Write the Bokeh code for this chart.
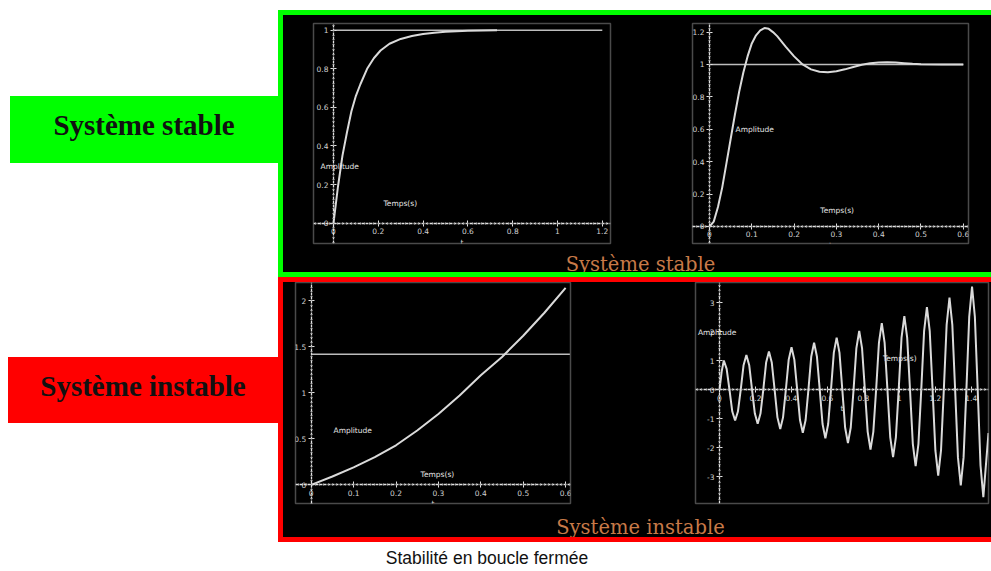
import numpy as np
from bokeh.plotting import figure
from bokeh.models import Range1d, FixedTicker, Label, Div, Spacer, CustomJSTickFormatter
from bokeh.layouts import row, column
from bokeh.embed import file_html
from bokeh.resources import INLINE

# ---------------- data ----------------
# top-left: first-order step response (stable)
t1 = [0.0, 0.02, 0.04, 0.06, 0.08, 0.10, 0.12, 0.15, 0.18, 0.21, 0.25, 0.30, 0.35, 0.40, 0.45, 0.50, 0.60, 0.73]
y1 = [0.0, 0.19, 0.35, 0.47, 0.58, 0.66, 0.72, 0.80, 0.855, 0.895, 0.93, 0.955, 0.97, 0.98, 0.987, 0.992, 0.997, 1.0]
ref1_t = [0.0, 1.2]
ref1_y = [1.0, 1.0]
xticks1 = [0, 0.2, 0.4, 0.6, 0.8, 1, 1.2]
yticks1 = [0, 0.2, 0.4, 0.6, 0.8, 1]

# top-right: second-order step response with overshoot (stable)
t2 = [0.0, 0.01, 0.02, 0.03, 0.04, 0.05, 0.06, 0.07, 0.08, 0.09, 0.10, 0.11, 0.12, 0.13, 0.14, 0.15,
      0.16, 0.18, 0.20, 0.22, 0.24, 0.26, 0.28, 0.30, 0.32, 0.34, 0.36, 0.38, 0.40, 0.42, 0.44, 0.46,
      0.48, 0.50, 0.55, 0.60]
y2 = [0.0, 0.03, 0.12, 0.24, 0.39, 0.54, 0.69, 0.83, 0.95, 1.05, 1.13, 1.18, 1.21, 1.225, 1.22, 1.20,
      1.175, 1.11, 1.05, 1.00, 0.97, 0.955, 0.952, 0.958, 0.970, 0.985, 0.998, 1.007, 1.012, 1.014, 1.012, 1.008,
      1.004, 1.001, 1.0, 1.0]
ref2_t = [0.0, 0.6]
ref2_y = [1.0, 1.0]
xticks2 = [0, 0.1, 0.2, 0.3, 0.4, 0.5, 0.6]
yticks2 = [0, 0.2, 0.4, 0.6, 0.8, 1, 1.2]

# bottom-left: diverging response (unstable)
t3 = [0.0, 0.05, 0.1, 0.15, 0.2, 0.25, 0.3, 0.35, 0.4, 0.45, 0.5, 0.55, 0.6]
y3 = [0.0, 0.09, 0.19, 0.30, 0.43, 0.59, 0.77, 0.97, 1.19, 1.39, 1.62, 1.87, 2.14]
ref3_t = [0.0, 0.61]
ref3_y = [1.42, 1.42]
xticks3 = [0, 0.1, 0.2, 0.3, 0.4, 0.5, 0.6]
yticks3 = [0, 0.5, 1, 1.5, 2]

# bottom-right: growing oscillation (unstable)
t4 = [0.0, 0.012, 0.024,
      0.0397, 0.0554, 0.0711, 0.0868, 0.1024, 0.1181, 0.1338, 0.1495,
      0.1652, 0.1809, 0.1966, 0.2123, 0.2279, 0.2436, 0.2593, 0.2750,
      0.2907, 0.3064, 0.3221, 0.3378, 0.3534, 0.3691, 0.3848, 0.4005,
      0.4162, 0.4319, 0.4476, 0.4633, 0.4789, 0.4946, 0.5103, 0.5260,
      0.5417, 0.5574, 0.5731, 0.5888, 0.6044, 0.6201, 0.6358, 0.6515,
      0.6672, 0.6829, 0.6986, 0.7143, 0.7299, 0.7456, 0.7613, 0.7770,
      0.7927, 0.8084, 0.8241, 0.8398, 0.8554, 0.8711, 0.8868, 0.9025,
      0.9182, 0.9339, 0.9496, 0.9653, 0.9809, 0.9966, 1.0123, 1.0280,
      1.0437, 1.0594, 1.0751, 1.0908, 1.1064, 1.1221, 1.1378, 1.1535,
      1.1692, 1.1849, 1.2006, 1.2163, 1.2319, 1.2476, 1.2633, 1.2790,
      1.2947, 1.3104, 1.3261, 1.3418, 1.3574, 1.3731, 1.3888, 1.4045,
      1.4202, 1.4359, 1.4516, 1.4673,
      1.4960]
y4 = [0.0, 0.62, 1.00,
      0.71, 0.0, -0.76, -1.07, -0.76, 0.0, 0.84, 1.19,
      0.84, 0.0, -0.83, -1.18, -0.83, 0.0, 0.93, 1.31,
      0.93, 0.0, -0.96, -1.36, -0.96, 0.0, 1.03, 1.46,
      1.03, 0.0, -1.05, -1.49, -1.05, 0.0, 1.14, 1.61,
      1.14, 0.0, -1.19, -1.68, -1.19, 0.0, 1.27, 1.79,
      1.27, 0.0, -1.31, -1.85, -1.31, 0.0, 1.43, 2.02,
      1.43, 0.0, -1.46, -2.07, -1.46, 0.0, 1.62, 2.29,
      1.62, 0.0, -1.65, -2.33, -1.65, 0.0, 1.79, 2.53,
      1.79, 0.0, -1.87, -2.64, -1.87, 0.0, 2.01, 2.84,
      2.01, 0.0, -2.10, -2.97, -2.10, 0.0, 2.24, 3.17,
      2.24, 0.0, -2.34, -3.31, -2.34, 0.0, 2.51, 3.55,
      2.51, 0.0, -2.62, -3.71,
      -1.50]
xticks4 = [0, 0.2, 0.4, 0.6, 0.8, 1, 1.2, 1.4]
yticks4 = [-3, -2, -1, 0, 1, 2, 3]

label_stable = "Système stable"
label_unstable = "Système instable"
caption_text = "Stabilité en boucle fermée"
amp_label = "Amplitude"
time_label = "Temps(s)"
x_axis_name = "t"

# ---------------- styling ----------------
GREEN = "#00ff00"
RED = "#ff0000"
BLACK = "#000000"
CURVE = "#dadada"
AXIS = "#e2e2e2"
TXT = "#c87a48"


def minor(lo, hi, step):
    start = np.ceil(lo / step) * step
    return [round(float(v), 6) for v in np.arange(start, hi + step * 0.01, step)]


def mini(w, h, borders, xr, yr, xticks, yticks, xstep, ystep):
    l, r, t, b = borders
    p = figure(width=w, height=h, x_range=Range1d(*xr), y_range=Range1d(*yr),
               output_backend="svg", toolbar_location=None,
               min_border_left=l, min_border_right=r, min_border_top=t, min_border_bottom=b,
               styles={"background-color": BLACK})
    p.background_fill_color = "black"
    p.border_fill_color = "black"
    p.outline_line_color = "#4a4a4a"
    p.outline_line_width = 1.5
    p.xgrid.visible = False
    p.ygrid.visible = False
    fmt = CustomJSTickFormatter(code="return String(Math.round(tick*1000)/1000);")
    for ax, ticks, rng, step in ((p.xaxis[0], xticks, xr, xstep), (p.yaxis[0], yticks, yr, ystep)):
        ax.fixed_location = 0
        ax.ticker = FixedTicker(ticks=ticks, minor_ticks=minor(rng[0], rng[1], step))
        ax.formatter = fmt
        ax.axis_line_color = AXIS
        ax.axis_line_width = 1.3
        ax.axis_line_dash = "3 1"
        ax.major_tick_line_color = AXIS
        ax.major_tick_in = 3
        ax.major_tick_out = 3
        ax.minor_tick_line_color = "#b0b0b0"
        ax.minor_tick_in = 1
        ax.minor_tick_out = 1
        ax.major_label_text_color = "#d2d2d2"
        ax.major_label_text_font = "DejaVu Sans"
        ax.major_label_text_font_size = "7.5px"
        ax.major_label_standoff = 2
    p.xaxis.axis_label = x_axis_name
    p.xaxis.axis_label_text_color = "#d2d2d2"
    p.xaxis.axis_label_text_font = "DejaVu Sans"
    p.xaxis.axis_label_text_font_size = "7.5px"
    p.xaxis.axis_label_text_font_style = "normal"
    p.xaxis.axis_label_standoff = 0
    return p


def note(p, x, y, text):
    p.add_layout(Label(x=x, y=y, text=text, text_color="#e6e6e6", text_font="DejaVu Sans",
                       text_font_size="7.5px", text_baseline="middle"))


fig1 = mini(367, 235, (30, 40, 4, 4), (-0.0893, 1.2366), (-0.1055, 1.035), xticks1, yticks1, 0.02, 0.025)
fig1.line(ref1_t, ref1_y, line_color="#bdbdbd", line_width=1.5)
fig1.line(t1, y1, line_color=CURVE, line_width=2)
note(fig1, -0.058, 0.296, amp_label)
note(fig1, 0.223, 0.10, time_label)

fig2 = mini(341, 235, (42, 23, 8, 7), (-0.0402, 0.6123), (-0.105, 1.253), xticks2, yticks2, 0.01, 0.025)
fig2.line(ref2_t, ref2_y, line_color="#bdbdbd", line_width=1.5)
fig2.line(t2, y2, line_color=CURVE, line_width=2)
note(fig2, 0.0615, 0.599, amp_label)
note(fig2, 0.262, 0.099, time_label)

fig3 = mini(367, 228, (12, 80, 0, 7), (-0.037, 0.6115), (-0.203, 2.199), xticks3, yticks3, 0.01, 0.05)
fig3.line(ref3_t, ref3_y, line_color="#bdbdbd", line_width=1.5)
fig3.line(t3, y3, line_color=CURVE, line_width=2)
note(fig3, 0.0526, 0.59, amp_label)
note(fig3, 0.258, 0.112, time_label)

fig4 = mini(341, 228, (45, 3, 0, 7), (-0.1335, 1.496), (-3.93, 3.69), xticks4, yticks4, 0.025, 0.2)
fig4.line(t4, y4, line_color=CURVE, line_width=2)
note(fig4, -0.12, 1.97, amp_label)
note(fig4, 0.909, 1.07, time_label)


def side_label(txt, w, h, color, pad_bottom):
    html = (f'<div style="width:{w}px;height:{h}px;background:{color};display:flex;'
            f'align-items:center;justify-content:center;box-sizing:border-box;padding-bottom:{pad_bottom}px;'
            f"font-family:'Liberation Serif';font-weight:bold;font-size:29px;color:#111111;"
            f'white-space:nowrap;">{txt}</div>')
    return Div(text=html, width=w, height=h, margin=0, styles={"background-color": color})


def panel_text(txt, h, pad_top, line_h):
    html = (f'<div style="width:708px;height:{h}px;background:#000000;box-sizing:border-box;'
            f'padding-left:7px;padding-top:{pad_top}px;text-align:center;'
            f"font-family:'DejaVu Serif';font-size:19.5px;line-height:{line_h}px;color:{TXT};"
            f'white-space:nowrap;">{txt}</div>')
    return Div(text=html, width=708, height=h, margin=0, styles={"background-color": BLACK})


def band(w, h, color):
    return Spacer(width=w, height=h, margin=0, styles={"background-color": color})


green_label = side_label(label_stable, 268, 67, GREEN, 8)
red_label = side_label(label_unstable, 270, 66, RED, 6)

left_col = column(
    Spacer(width=278, height=96),
    row(Spacer(width=10, height=67), green_label),
    Spacer(width=278, height=194),
    row(Spacer(width=8, height=66), red_label),
    Spacer(width=278, height=119),
)

border_col = column(
    Spacer(width=5, height=10),
    band(5, 267, GREEN),
    band(5, 265, RED),
)

right_col = column(
    Spacer(width=708, height=10, styles={"background-color": "#ffffff"}),
    band(708, 5, GREEN),
    row(fig1, fig2, styles={"background-color": BLACK}),
    panel_text(label_stable, 22, 4, 22),
    band(708, 5, GREEN),
    band(708, 5, RED),
    row(fig3, fig4, styles={"background-color": BLACK}),
    panel_text(label_unstable, 27, 4, 27),
    band(708, 5, RED),
    styles={"background-color": BLACK},
)

caption = Div(
    text=(f'<div style="width:991px;box-sizing:border-box;padding-right:17px;padding-top:8px;'
          f"text-align:center;font-family:'Liberation Sans';font-size:17.5px;line-height:17px;"
          f'color:#111111;white-space:nowrap;">{caption_text}</div>'),
    width=991, height=28, margin=0)

layout = column(row(left_col, border_col, right_col), caption)

open("out.html", "w").write(file_html(layout, INLINE))
